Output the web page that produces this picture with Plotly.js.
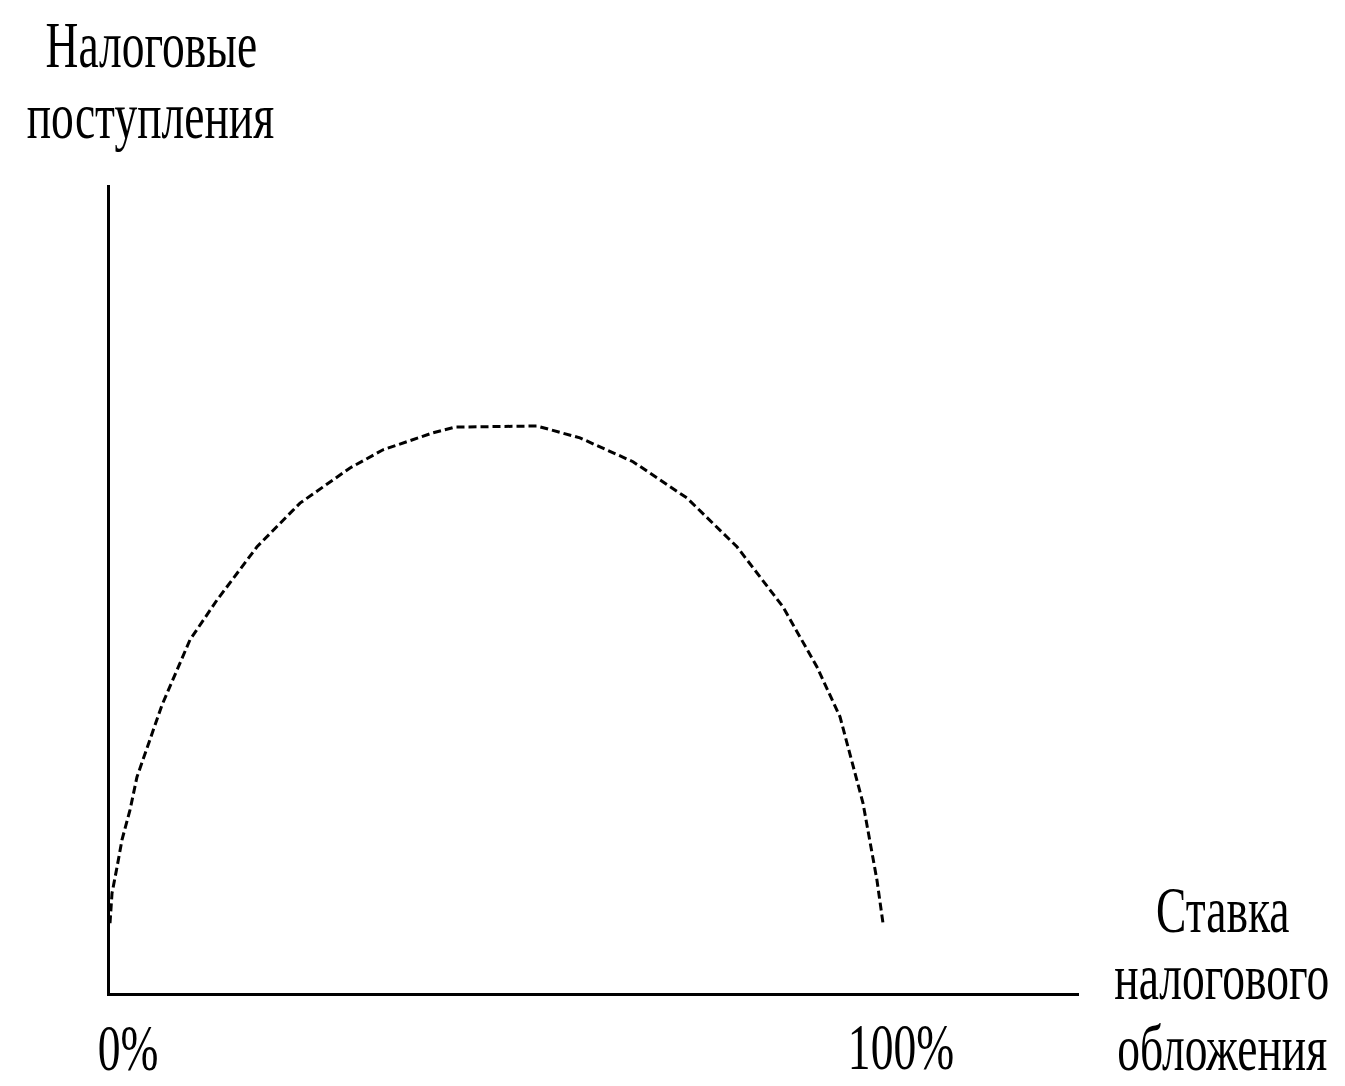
<!DOCTYPE html>
<html>
<head>
<meta charset="utf-8">
<script src="https://cdn.plot.ly/plotly-3.0.1.min.js"></script>
<style>body{margin:0;background:#fff;}</style>
</head>
<body>
<div id="chart" style="width:1345px;height:1086px;"></div>
<script>
// Data (tax rate in %, revenue in relative units, peak = 100)
const taxRate = [0, 0.26, 0.91, 1.55, 2.59, 3.49, 6.73, 7.76, 10.35, 13.84, 19.02, 24.58, 31.05, 35.32, 41.79, 44.63, 55.24, 60.80, 67.66, 74.64, 81.11, 87.06, 91.46, 94.44, 97.41, 99.22, 100];
const taxRevenue = [12.3, 17.6, 22.2, 27.0, 32.3, 38.1, 50.8, 54.0, 62.3, 69.3, 78.7, 86.4, 92.6, 95.8, 98.8, 99.8, 100, 97.9, 93.7, 87.3, 78.7, 68.1, 57.5, 48.7, 33.5, 19.9, 12.3];
const tickVals = [0, 100];
const tickLabels = ['0%', '100%'];
const yTitleLines = ['Налоговые', 'поступления'];
const xTitleLines = ['Ставка', 'налогового', 'обложения'];

const W = 1345, H = 1086;
const M = {l: 110, r: 266, t: 185, b: 93};
const plotW = W - M.l - M.r, plotH = H - M.t - M.b;
const px2x = px => (px - M.l) / plotW;
const py2y = py => (H - M.b - py) / plotH;

const FS = 66;
const FONT = {family: 'Liberation Serif, serif', size: FS, color: '#000'};
const ASC = Math.round(0.891 * FS) + 1;

const annotations = [];
const yTitleX = [151, 150];
const yTitleBase = [66, 137];
yTitleLines.forEach((t, i) => annotations.push({
  text: t, xref: 'paper', yref: 'paper', x: px2x(yTitleX[i]), y: py2y(yTitleBase[i] - ASC),
  xanchor: 'center', yanchor: 'top', showarrow: false, font: FONT
}));
const xTitleX = [1223, 1222, 1222];
const xTitleBase = [931, 998, 1069];
xTitleLines.forEach((t, i) => annotations.push({
  text: t, xref: 'paper', yref: 'paper', x: px2x(xTitleX[i]), y: py2y(xTitleBase[i] - ASC),
  xanchor: 'center', yanchor: 'top', showarrow: false, font: FONT
}));
const tickBase = [1069, 1068];
tickVals.forEach((v, i) => annotations.push({
  text: tickLabels[i], xref: 'x', yref: 'paper', x: v, xshift: 18, y: py2y(tickBase[i] - ASC),
  xanchor: 'center', yanchor: 'top', showarrow: false, font: FONT
}));

const data = [{
  x: taxRate, y: taxRevenue, type: 'scatter', mode: 'lines',
  line: {color: '#000', width: 3, dash: '8px,4px'}, hoverinfo: 'skip'
}];

const layout = {
  width: W, height: H,
  margin: M,
  paper_bgcolor: '#fff', plot_bgcolor: '#fff',
  showlegend: false,
  xaxis: {
    range: [0, plotW / 7.73], showgrid: false, zeroline: false,
    showline: true, linecolor: '#000', linewidth: 3,
    tickvals: tickVals, showticklabels: false, ticks: '', fixedrange: true
  },
  yaxis: {
    range: [0, plotH / 5.67], showgrid: false, zeroline: false,
    showline: true, linecolor: '#000', linewidth: 3,
    showticklabels: false, ticks: '', fixedrange: true
  },
  annotations: annotations
};

Plotly.newPlot('chart', data, layout, {staticPlot: true}).then(() => {
  const sx = 0.69;
  document.querySelectorAll('.annotation-text').forEach(t => {
    const b = t.getBBox();
    const cx = b.x + b.width / 2;
    const prev = t.getAttribute('transform') || '';
    t.setAttribute('transform', prev + ` translate(${cx},0) scale(${sx},1) translate(${-cx},0)`);
  });
});
</script>
</body>
</html>
